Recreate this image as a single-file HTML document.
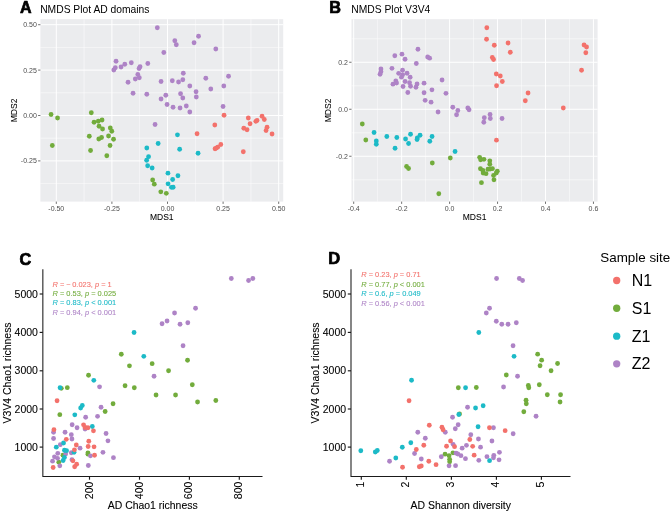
<!DOCTYPE html>
<html><head><meta charset="utf-8"><title>NMDS</title>
<style>
html,body{margin:0;padding:0;background:#fff;}
body{width:672px;height:514px;overflow:hidden;font-family:"Liberation Sans",sans-serif;}
svg{display:block;will-change:transform;transform:translateZ(0);font-family:"Liberation Sans",sans-serif;}
.tk{font-size:7.0px;fill:#4d4d4d;}
.at{font-size:8.5px;fill:#000;stroke:#000;stroke-width:0.06px;}
.ti{font-size:10.3px;fill:#000;}
.lab{font-size:15.6px;font-weight:bold;fill:#000;stroke:#000;stroke-width:0.7px;stroke-linejoin:round;}
.tk2{font-size:10.5px;fill:#000;stroke:#000;stroke-width:0.08px;}
.at2{font-size:10.45px;fill:#000;stroke:#000;stroke-width:0.1px;}
.an{font-size:7.45px;stroke-width:0.08px;}
.lg{font-size:16px;fill:#000;}
.lgt{font-size:13.4px;fill:#000;}
</style></head><body>
<svg width="672" height="514" viewBox="0 0 672 514">
<rect width="672" height="514" fill="#fff"/>

<rect x="40.4" y="19.2" width="242.79999999999998" height="182.4" fill="#EBECEE"/>
<line x1="84.10" x2="84.10" y1="19.2" y2="201.6" stroke="#fff" stroke-width="0.55" opacity="0.9"/><line x1="139.70" x2="139.70" y1="19.2" y2="201.6" stroke="#fff" stroke-width="0.55" opacity="0.9"/><line x1="195.30" x2="195.30" y1="19.2" y2="201.6" stroke="#fff" stroke-width="0.55" opacity="0.9"/><line x1="250.90" x2="250.90" y1="19.2" y2="201.6" stroke="#fff" stroke-width="0.55" opacity="0.9"/><line y1="183.60" y2="183.60" x1="40.4" x2="283.2" stroke="#fff" stroke-width="0.55" opacity="0.9"/><line y1="138.20" y2="138.20" x1="40.4" x2="283.2" stroke="#fff" stroke-width="0.55" opacity="0.9"/><line y1="92.80" y2="92.80" x1="40.4" x2="283.2" stroke="#fff" stroke-width="0.55" opacity="0.9"/><line y1="47.40" y2="47.40" x1="40.4" x2="283.2" stroke="#fff" stroke-width="0.55" opacity="0.9"/><line x1="56.30" x2="56.30" y1="19.2" y2="201.6" stroke="#fff" stroke-width="1.0"/><line x1="56.30" x2="56.30" y1="201.6" y2="203.9" stroke="#333" stroke-width="0.7"/><text class="tk" x="56.30" y="211.2" text-anchor="middle">-0.50</text><line x1="111.90" x2="111.90" y1="19.2" y2="201.6" stroke="#fff" stroke-width="1.0"/><line x1="111.90" x2="111.90" y1="201.6" y2="203.9" stroke="#333" stroke-width="0.7"/><text class="tk" x="111.90" y="211.2" text-anchor="middle">-0.25</text><line x1="167.50" x2="167.50" y1="19.2" y2="201.6" stroke="#fff" stroke-width="1.0"/><line x1="167.50" x2="167.50" y1="201.6" y2="203.9" stroke="#333" stroke-width="0.7"/><text class="tk" x="167.50" y="211.2" text-anchor="middle">0.00</text><line x1="223.10" x2="223.10" y1="19.2" y2="201.6" stroke="#fff" stroke-width="1.0"/><line x1="223.10" x2="223.10" y1="201.6" y2="203.9" stroke="#333" stroke-width="0.7"/><text class="tk" x="223.10" y="211.2" text-anchor="middle">0.25</text><line x1="278.70" x2="278.70" y1="19.2" y2="201.6" stroke="#fff" stroke-width="1.0"/><line x1="278.70" x2="278.70" y1="201.6" y2="203.9" stroke="#333" stroke-width="0.7"/><text class="tk" x="278.70" y="211.2" text-anchor="middle">0.50</text><line y1="160.90" y2="160.90" x1="40.4" x2="283.2" stroke="#fff" stroke-width="1.0"/><line y1="160.90" y2="160.90" x1="38.1" x2="40.4" stroke="#333" stroke-width="0.7"/><text class="tk" x="36.8" y="163.40" text-anchor="end">-0.25</text><line y1="115.50" y2="115.50" x1="40.4" x2="283.2" stroke="#fff" stroke-width="1.0"/><line y1="115.50" y2="115.50" x1="38.1" x2="40.4" stroke="#333" stroke-width="0.7"/><text class="tk" x="36.8" y="118.00" text-anchor="end">0.00</text><line y1="70.10" y2="70.10" x1="40.4" x2="283.2" stroke="#fff" stroke-width="1.0"/><line y1="70.10" y2="70.10" x1="38.1" x2="40.4" stroke="#333" stroke-width="0.7"/><text class="tk" x="36.8" y="72.60" text-anchor="end">0.25</text><line y1="24.70" y2="24.70" x1="40.4" x2="283.2" stroke="#fff" stroke-width="1.0"/><line y1="24.70" y2="24.70" x1="38.1" x2="40.4" stroke="#333" stroke-width="0.7"/><text class="tk" x="36.8" y="27.20" text-anchor="end">0.50</text>
<circle cx="51.05" cy="114.50" r="2.4" fill="#72AC3C"/><circle cx="57.55" cy="118.00" r="2.4" fill="#72AC3C"/><circle cx="52.30" cy="145.50" r="2.4" fill="#72AC3C"/><circle cx="91.30" cy="112.75" r="2.4" fill="#72AC3C"/><circle cx="94.05" cy="122.25" r="2.4" fill="#72AC3C"/><circle cx="98.30" cy="121.25" r="2.4" fill="#72AC3C"/><circle cx="102.05" cy="120.00" r="2.4" fill="#72AC3C"/><circle cx="99.05" cy="126.25" r="2.4" fill="#72AC3C"/><circle cx="102.55" cy="129.00" r="2.4" fill="#72AC3C"/><circle cx="110.30" cy="128.00" r="2.4" fill="#72AC3C"/><circle cx="111.80" cy="131.25" r="2.4" fill="#72AC3C"/><circle cx="89.30" cy="136.25" r="2.4" fill="#72AC3C"/><circle cx="108.55" cy="136.00" r="2.4" fill="#72AC3C"/><circle cx="101.55" cy="137.50" r="2.4" fill="#72AC3C"/><circle cx="98.80" cy="139.00" r="2.4" fill="#72AC3C"/><circle cx="113.55" cy="139.25" r="2.4" fill="#72AC3C"/><circle cx="110.05" cy="145.50" r="2.4" fill="#72AC3C"/><circle cx="90.55" cy="150.50" r="2.4" fill="#72AC3C"/><circle cx="106.80" cy="155.75" r="2.4" fill="#72AC3C"/><circle cx="152.65" cy="180.00" r="2.4" fill="#72AC3C"/><circle cx="154.30" cy="184.15" r="2.4" fill="#72AC3C"/><circle cx="160.80" cy="191.85" r="2.4" fill="#72AC3C"/><circle cx="166.30" cy="193.35" r="2.4" fill="#72AC3C"/><circle cx="157.30" cy="27.75" r="2.4" fill="#AE83C6"/><circle cx="163.80" cy="52.50" r="2.4" fill="#AE83C6"/><circle cx="116.05" cy="61.25" r="2.4" fill="#AE83C6"/><circle cx="115.30" cy="67.75" r="2.4" fill="#AE83C6"/><circle cx="113.80" cy="70.00" r="2.4" fill="#AE83C6"/><circle cx="121.05" cy="67.00" r="2.4" fill="#AE83C6"/><circle cx="124.80" cy="64.25" r="2.4" fill="#AE83C6"/><circle cx="131.30" cy="62.75" r="2.4" fill="#AE83C6"/><circle cx="140.05" cy="66.75" r="2.4" fill="#AE83C6"/><circle cx="139.05" cy="68.50" r="2.4" fill="#AE83C6"/><circle cx="147.80" cy="63.50" r="2.4" fill="#AE83C6"/><circle cx="137.80" cy="74.50" r="2.4" fill="#AE83C6"/><circle cx="139.30" cy="77.75" r="2.4" fill="#AE83C6"/><circle cx="135.30" cy="79.00" r="2.4" fill="#AE83C6"/><circle cx="128.05" cy="82.25" r="2.4" fill="#AE83C6"/><circle cx="161.05" cy="81.50" r="2.4" fill="#AE83C6"/><circle cx="133.05" cy="93.25" r="2.4" fill="#AE83C6"/><circle cx="146.80" cy="94.25" r="2.4" fill="#AE83C6"/><circle cx="165.80" cy="95.25" r="2.4" fill="#AE83C6"/><circle cx="161.05" cy="99.00" r="2.4" fill="#AE83C6"/><circle cx="167.05" cy="104.50" r="2.4" fill="#AE83C6"/><circle cx="155.05" cy="124.50" r="2.4" fill="#AE83C6"/><circle cx="174.80" cy="40.75" r="2.4" fill="#AE83C6"/><circle cx="176.30" cy="44.75" r="2.4" fill="#AE83C6"/><circle cx="194.05" cy="42.75" r="2.4" fill="#AE83C6"/><circle cx="198.55" cy="36.25" r="2.4" fill="#AE83C6"/><circle cx="215.80" cy="49.00" r="2.4" fill="#AE83C6"/><circle cx="183.30" cy="73.25" r="2.4" fill="#AE83C6"/><circle cx="172.30" cy="80.75" r="2.4" fill="#AE83C6"/><circle cx="178.55" cy="82.00" r="2.4" fill="#AE83C6"/><circle cx="182.80" cy="79.75" r="2.4" fill="#AE83C6"/><circle cx="189.80" cy="86.00" r="2.4" fill="#AE83C6"/><circle cx="205.80" cy="78.25" r="2.4" fill="#AE83C6"/><circle cx="228.55" cy="76.25" r="2.4" fill="#AE83C6"/><circle cx="223.80" cy="86.00" r="2.4" fill="#AE83C6"/><circle cx="210.80" cy="89.00" r="2.4" fill="#AE83C6"/><circle cx="196.05" cy="91.75" r="2.4" fill="#AE83C6"/><circle cx="180.55" cy="93.75" r="2.4" fill="#AE83C6"/><circle cx="182.80" cy="98.00" r="2.4" fill="#AE83C6"/><circle cx="196.30" cy="97.00" r="2.4" fill="#AE83C6"/><circle cx="173.05" cy="107.25" r="2.4" fill="#AE83C6"/><circle cx="180.05" cy="108.00" r="2.4" fill="#AE83C6"/><circle cx="186.30" cy="106.00" r="2.4" fill="#AE83C6"/><circle cx="189.80" cy="112.00" r="2.4" fill="#AE83C6"/><circle cx="223.05" cy="106.50" r="2.4" fill="#AE83C6"/><circle cx="177.45" cy="134.85" r="2.4" fill="#1CBAC7"/><circle cx="158.15" cy="143.50" r="2.4" fill="#1CBAC7"/><circle cx="146.80" cy="148.00" r="2.4" fill="#1CBAC7"/><circle cx="179.65" cy="149.25" r="2.4" fill="#1CBAC7"/><circle cx="198.05" cy="153.25" r="2.4" fill="#1CBAC7"/><circle cx="148.55" cy="156.65" r="2.4" fill="#1CBAC7"/><circle cx="146.65" cy="160.25" r="2.4" fill="#1CBAC7"/><circle cx="147.65" cy="165.75" r="2.4" fill="#1CBAC7"/><circle cx="152.15" cy="168.00" r="2.4" fill="#1CBAC7"/><circle cx="167.95" cy="173.15" r="2.4" fill="#1CBAC7"/><circle cx="177.95" cy="175.75" r="2.4" fill="#1CBAC7"/><circle cx="172.65" cy="179.50" r="2.4" fill="#1CBAC7"/><circle cx="168.05" cy="183.85" r="2.4" fill="#1CBAC7"/><circle cx="171.45" cy="187.35" r="2.4" fill="#1CBAC7"/><circle cx="173.15" cy="187.25" r="2.4" fill="#1CBAC7"/><circle cx="224.05" cy="115.25" r="2.4" fill="#F3716B"/><circle cx="214.80" cy="125.00" r="2.4" fill="#F3716B"/><circle cx="197.05" cy="133.75" r="2.4" fill="#F3716B"/><circle cx="248.30" cy="118.00" r="2.4" fill="#F3716B"/><circle cx="250.05" cy="123.75" r="2.4" fill="#F3716B"/><circle cx="255.85" cy="121.35" r="2.4" fill="#F3716B"/><circle cx="257.05" cy="120.45" r="2.4" fill="#F3716B"/><circle cx="262.05" cy="116.25" r="2.4" fill="#F3716B"/><circle cx="264.30" cy="119.50" r="2.4" fill="#F3716B"/><circle cx="243.80" cy="128.25" r="2.4" fill="#F3716B"/><circle cx="247.05" cy="129.75" r="2.4" fill="#F3716B"/><circle cx="267.05" cy="127.25" r="2.4" fill="#F3716B"/><circle cx="266.05" cy="130.50" r="2.4" fill="#F3716B"/><circle cx="272.05" cy="134.00" r="2.4" fill="#F3716B"/><circle cx="220.80" cy="144.50" r="2.4" fill="#F3716B"/><circle cx="217.65" cy="147.15" r="2.4" fill="#F3716B"/><circle cx="216.35" cy="148.05" r="2.4" fill="#F3716B"/><circle cx="215.05" cy="148.75" r="2.4" fill="#F3716B"/><circle cx="243.30" cy="151.75" r="2.4" fill="#F3716B"/>
<text class="lab" transform="translate(19.9,12.5) scale(1.03,1)">A</text>
<text class="ti" x="40.2" y="12.9">NMDS Plot AD domains</text>
<text class="at" x="161.8" y="220.3" text-anchor="middle">MDS1</text>
<text class="at" transform="translate(17.3,110.4) rotate(-90)" text-anchor="middle">MDS2</text>
<rect x="351.5" y="19.2" width="246.10000000000002" height="182.4" fill="#EBECEE"/>
<line x1="377.68" x2="377.68" y1="19.2" y2="201.6" stroke="#fff" stroke-width="0.55" opacity="0.9"/><line x1="425.62" x2="425.62" y1="19.2" y2="201.6" stroke="#fff" stroke-width="0.55" opacity="0.9"/><line x1="473.58" x2="473.58" y1="19.2" y2="201.6" stroke="#fff" stroke-width="0.55" opacity="0.9"/><line x1="521.53" x2="521.53" y1="19.2" y2="201.6" stroke="#fff" stroke-width="0.55" opacity="0.9"/><line x1="569.48" x2="569.48" y1="19.2" y2="201.6" stroke="#fff" stroke-width="0.55" opacity="0.9"/><line y1="179.75" y2="179.75" x1="351.5" x2="597.6" stroke="#fff" stroke-width="0.55" opacity="0.9"/><line y1="132.75" y2="132.75" x1="351.5" x2="597.6" stroke="#fff" stroke-width="0.55" opacity="0.9"/><line y1="85.75" y2="85.75" x1="351.5" x2="597.6" stroke="#fff" stroke-width="0.55" opacity="0.9"/><line y1="38.75" y2="38.75" x1="351.5" x2="597.6" stroke="#fff" stroke-width="0.55" opacity="0.9"/><line x1="353.70" x2="353.70" y1="19.2" y2="201.6" stroke="#fff" stroke-width="1.0"/><line x1="353.70" x2="353.70" y1="201.6" y2="203.9" stroke="#333" stroke-width="0.7"/><text class="tk" x="353.70" y="211.2" text-anchor="middle">-0.4</text><line x1="401.65" x2="401.65" y1="19.2" y2="201.6" stroke="#fff" stroke-width="1.0"/><line x1="401.65" x2="401.65" y1="201.6" y2="203.9" stroke="#333" stroke-width="0.7"/><text class="tk" x="401.65" y="211.2" text-anchor="middle">-0.2</text><line x1="449.60" x2="449.60" y1="19.2" y2="201.6" stroke="#fff" stroke-width="1.0"/><line x1="449.60" x2="449.60" y1="201.6" y2="203.9" stroke="#333" stroke-width="0.7"/><text class="tk" x="449.60" y="211.2" text-anchor="middle">0.0</text><line x1="497.55" x2="497.55" y1="19.2" y2="201.6" stroke="#fff" stroke-width="1.0"/><line x1="497.55" x2="497.55" y1="201.6" y2="203.9" stroke="#333" stroke-width="0.7"/><text class="tk" x="497.55" y="211.2" text-anchor="middle">0.2</text><line x1="545.50" x2="545.50" y1="19.2" y2="201.6" stroke="#fff" stroke-width="1.0"/><line x1="545.50" x2="545.50" y1="201.6" y2="203.9" stroke="#333" stroke-width="0.7"/><text class="tk" x="545.50" y="211.2" text-anchor="middle">0.4</text><line x1="593.45" x2="593.45" y1="19.2" y2="201.6" stroke="#fff" stroke-width="1.0"/><line x1="593.45" x2="593.45" y1="201.6" y2="203.9" stroke="#333" stroke-width="0.7"/><text class="tk" x="593.45" y="211.2" text-anchor="middle">0.6</text><line y1="156.25" y2="156.25" x1="351.5" x2="597.6" stroke="#fff" stroke-width="1.0"/><line y1="156.25" y2="156.25" x1="349.2" x2="351.5" stroke="#333" stroke-width="0.7"/><text class="tk" x="347.9" y="158.75" text-anchor="end">-0.2</text><line y1="109.25" y2="109.25" x1="351.5" x2="597.6" stroke="#fff" stroke-width="1.0"/><line y1="109.25" y2="109.25" x1="349.2" x2="351.5" stroke="#333" stroke-width="0.7"/><text class="tk" x="347.9" y="111.75" text-anchor="end">0.0</text><line y1="62.25" y2="62.25" x1="351.5" x2="597.6" stroke="#fff" stroke-width="1.0"/><line y1="62.25" y2="62.25" x1="349.2" x2="351.5" stroke="#333" stroke-width="0.7"/><text class="tk" x="347.9" y="64.75" text-anchor="end">0.2</text>
<circle cx="362.30" cy="124.00" r="2.4" fill="#72AC3C"/><circle cx="365.80" cy="140.00" r="2.4" fill="#72AC3C"/><circle cx="406.55" cy="166.50" r="2.4" fill="#72AC3C"/><circle cx="408.55" cy="168.50" r="2.4" fill="#72AC3C"/><circle cx="432.30" cy="163.00" r="2.4" fill="#72AC3C"/><circle cx="450.30" cy="158.00" r="2.4" fill="#72AC3C"/><circle cx="438.80" cy="193.75" r="2.4" fill="#72AC3C"/><circle cx="479.65" cy="157.35" r="2.4" fill="#72AC3C"/><circle cx="480.65" cy="159.75" r="2.4" fill="#72AC3C"/><circle cx="483.95" cy="159.35" r="2.4" fill="#72AC3C"/><circle cx="489.80" cy="160.85" r="2.4" fill="#72AC3C"/><circle cx="489.80" cy="164.25" r="2.4" fill="#72AC3C"/><circle cx="480.45" cy="168.75" r="2.4" fill="#72AC3C"/><circle cx="482.95" cy="170.50" r="2.4" fill="#72AC3C"/><circle cx="483.15" cy="173.00" r="2.4" fill="#72AC3C"/><circle cx="486.05" cy="173.65" r="2.4" fill="#72AC3C"/><circle cx="487.95" cy="169.25" r="2.4" fill="#72AC3C"/><circle cx="490.05" cy="169.00" r="2.4" fill="#72AC3C"/><circle cx="492.45" cy="168.65" r="2.4" fill="#72AC3C"/><circle cx="497.30" cy="171.25" r="2.4" fill="#72AC3C"/><circle cx="496.30" cy="173.00" r="2.4" fill="#72AC3C"/><circle cx="493.55" cy="175.50" r="2.4" fill="#72AC3C"/><circle cx="493.95" cy="179.85" r="2.4" fill="#72AC3C"/><circle cx="481.45" cy="182.65" r="2.4" fill="#72AC3C"/><circle cx="417.95" cy="49.25" r="2.4" fill="#AE83C6"/><circle cx="401.95" cy="54.15" r="2.4" fill="#AE83C6"/><circle cx="394.80" cy="55.75" r="2.4" fill="#AE83C6"/><circle cx="405.05" cy="59.25" r="2.4" fill="#AE83C6"/><circle cx="427.65" cy="57.00" r="2.4" fill="#AE83C6"/><circle cx="429.65" cy="58.15" r="2.4" fill="#AE83C6"/><circle cx="416.30" cy="63.50" r="2.4" fill="#AE83C6"/><circle cx="380.95" cy="69.00" r="2.4" fill="#AE83C6"/><circle cx="380.95" cy="71.75" r="2.4" fill="#AE83C6"/><circle cx="380.05" cy="74.25" r="2.4" fill="#AE83C6"/><circle cx="391.95" cy="68.35" r="2.4" fill="#AE83C6"/><circle cx="402.55" cy="70.25" r="2.4" fill="#AE83C6"/><circle cx="398.65" cy="73.35" r="2.4" fill="#AE83C6"/><circle cx="407.05" cy="73.25" r="2.4" fill="#AE83C6"/><circle cx="402.65" cy="74.85" r="2.4" fill="#AE83C6"/><circle cx="401.45" cy="77.15" r="2.4" fill="#AE83C6"/><circle cx="410.15" cy="77.25" r="2.4" fill="#AE83C6"/><circle cx="395.80" cy="81.00" r="2.4" fill="#AE83C6"/><circle cx="396.55" cy="83.00" r="2.4" fill="#AE83C6"/><circle cx="392.95" cy="84.15" r="2.4" fill="#AE83C6"/><circle cx="405.05" cy="81.50" r="2.4" fill="#AE83C6"/><circle cx="409.55" cy="82.75" r="2.4" fill="#AE83C6"/><circle cx="403.05" cy="86.50" r="2.4" fill="#AE83C6"/><circle cx="410.55" cy="86.25" r="2.4" fill="#AE83C6"/><circle cx="417.05" cy="84.00" r="2.4" fill="#AE83C6"/><circle cx="415.95" cy="87.25" r="2.4" fill="#AE83C6"/><circle cx="424.05" cy="83.15" r="2.4" fill="#AE83C6"/><circle cx="442.05" cy="80.00" r="2.4" fill="#AE83C6"/><circle cx="407.80" cy="92.50" r="2.4" fill="#AE83C6"/><circle cx="424.05" cy="92.75" r="2.4" fill="#AE83C6"/><circle cx="431.95" cy="89.85" r="2.4" fill="#AE83C6"/><circle cx="445.95" cy="93.35" r="2.4" fill="#AE83C6"/><circle cx="425.15" cy="100.35" r="2.4" fill="#AE83C6"/><circle cx="431.05" cy="102.15" r="2.4" fill="#AE83C6"/><circle cx="438.05" cy="112.00" r="2.4" fill="#AE83C6"/><circle cx="452.80" cy="107.25" r="2.4" fill="#AE83C6"/><circle cx="457.80" cy="110.50" r="2.4" fill="#AE83C6"/><circle cx="456.55" cy="114.75" r="2.4" fill="#AE83C6"/><circle cx="467.80" cy="108.00" r="2.4" fill="#AE83C6"/><circle cx="469.05" cy="109.75" r="2.4" fill="#AE83C6"/><circle cx="484.30" cy="117.75" r="2.4" fill="#AE83C6"/><circle cx="483.80" cy="122.25" r="2.4" fill="#AE83C6"/><circle cx="490.05" cy="114.50" r="2.4" fill="#AE83C6"/><circle cx="490.30" cy="118.50" r="2.4" fill="#AE83C6"/><circle cx="502.05" cy="118.50" r="2.4" fill="#AE83C6"/><circle cx="374.05" cy="132.50" r="2.4" fill="#1CBAC7"/><circle cx="376.30" cy="141.00" r="2.4" fill="#1CBAC7"/><circle cx="376.30" cy="144.25" r="2.4" fill="#1CBAC7"/><circle cx="386.80" cy="136.50" r="2.4" fill="#1CBAC7"/><circle cx="396.80" cy="137.50" r="2.4" fill="#1CBAC7"/><circle cx="395.05" cy="148.25" r="2.4" fill="#1CBAC7"/><circle cx="405.55" cy="139.00" r="2.4" fill="#1CBAC7"/><circle cx="408.55" cy="143.50" r="2.4" fill="#1CBAC7"/><circle cx="410.55" cy="134.25" r="2.4" fill="#1CBAC7"/><circle cx="417.30" cy="138.00" r="2.4" fill="#1CBAC7"/><circle cx="417.05" cy="139.50" r="2.4" fill="#1CBAC7"/><circle cx="420.05" cy="135.25" r="2.4" fill="#1CBAC7"/><circle cx="432.05" cy="136.50" r="2.4" fill="#1CBAC7"/><circle cx="429.80" cy="141.25" r="2.4" fill="#1CBAC7"/><circle cx="455.05" cy="151.50" r="2.4" fill="#1CBAC7"/><circle cx="486.80" cy="27.75" r="2.4" fill="#F3716B"/><circle cx="486.55" cy="39.25" r="2.4" fill="#F3716B"/><circle cx="494.30" cy="45.25" r="2.4" fill="#F3716B"/><circle cx="508.05" cy="43.00" r="2.4" fill="#F3716B"/><circle cx="510.30" cy="52.25" r="2.4" fill="#F3716B"/><circle cx="492.30" cy="57.50" r="2.4" fill="#F3716B"/><circle cx="493.55" cy="59.50" r="2.4" fill="#F3716B"/><circle cx="496.30" cy="74.00" r="2.4" fill="#F3716B"/><circle cx="500.30" cy="76.00" r="2.4" fill="#F3716B"/><circle cx="502.30" cy="81.50" r="2.4" fill="#F3716B"/><circle cx="496.55" cy="85.75" r="2.4" fill="#F3716B"/><circle cx="528.05" cy="93.00" r="2.4" fill="#F3716B"/><circle cx="525.30" cy="100.75" r="2.4" fill="#F3716B"/><circle cx="563.30" cy="108.00" r="2.4" fill="#F3716B"/><circle cx="581.55" cy="70.25" r="2.4" fill="#F3716B"/><circle cx="584.05" cy="45.00" r="2.4" fill="#F3716B"/><circle cx="586.55" cy="47.00" r="2.4" fill="#F3716B"/><circle cx="585.80" cy="52.75" r="2.4" fill="#F3716B"/><circle cx="496.45" cy="140.15" r="2.4" fill="#F3716B"/>
<text class="lab" transform="translate(329.3,12.6) scale(1.04,1)">B</text>
<text class="ti" x="351.3" y="12.9">NMDS Plot V3V4</text>
<text class="at" x="474.6" y="220.3" text-anchor="middle">MDS1</text>
<text class="at" transform="translate(331.1,110.4) rotate(-90)" text-anchor="middle">MDS2</text>
<path d="M42.85 269.2 V476.5 H262.5" fill="none" stroke="#1a1a1a" stroke-width="1.05"/><line x1="39.65" x2="42.85" y1="294" y2="294" stroke="#1a1a1a" stroke-width="1.15"/><text class="tk2" x="37.95" y="297.6" text-anchor="end">5000</text><line x1="39.65" x2="42.85" y1="332.4" y2="332.4" stroke="#1a1a1a" stroke-width="1.15"/><text class="tk2" x="37.95" y="336.0" text-anchor="end">4000</text><line x1="39.65" x2="42.85" y1="370.8" y2="370.8" stroke="#1a1a1a" stroke-width="1.15"/><text class="tk2" x="37.95" y="374.40000000000003" text-anchor="end">3000</text><line x1="39.65" x2="42.85" y1="409.0" y2="409.0" stroke="#1a1a1a" stroke-width="1.15"/><text class="tk2" x="37.95" y="412.6" text-anchor="end">2000</text><line x1="39.65" x2="42.85" y1="447.1" y2="447.1" stroke="#1a1a1a" stroke-width="1.15"/><text class="tk2" x="37.95" y="450.70000000000005" text-anchor="end">1000</text><line x1="89.5" x2="89.5" y1="476.5" y2="479.7" stroke="#1a1a1a" stroke-width="1.15"/><text class="tk2" transform="translate(92.5,481.6) rotate(-90)" text-anchor="end">200</text><line x1="139.5" x2="139.5" y1="476.5" y2="479.7" stroke="#1a1a1a" stroke-width="1.15"/><text class="tk2" transform="translate(142.5,481.6) rotate(-90)" text-anchor="end">400</text><line x1="189.4" x2="189.4" y1="476.5" y2="479.7" stroke="#1a1a1a" stroke-width="1.15"/><text class="tk2" transform="translate(192.4,481.6) rotate(-90)" text-anchor="end">600</text><line x1="239.3" x2="239.3" y1="476.5" y2="479.7" stroke="#1a1a1a" stroke-width="1.15"/><text class="tk2" transform="translate(242.3,481.6) rotate(-90)" text-anchor="end">800</text>
<circle cx="121.30" cy="354.25" r="2.4" fill="#72AC3C"/><circle cx="129.45" cy="365.85" r="2.4" fill="#72AC3C"/><circle cx="152.15" cy="363.65" r="2.4" fill="#72AC3C"/><circle cx="187.55" cy="360.25" r="2.4" fill="#72AC3C"/><circle cx="168.55" cy="370.75" r="2.4" fill="#72AC3C"/><circle cx="125.05" cy="385.75" r="2.4" fill="#72AC3C"/><circle cx="134.30" cy="387.75" r="2.4" fill="#72AC3C"/><circle cx="192.30" cy="384.75" r="2.4" fill="#72AC3C"/><circle cx="156.05" cy="395.00" r="2.4" fill="#72AC3C"/><circle cx="175.55" cy="395.00" r="2.4" fill="#72AC3C"/><circle cx="197.55" cy="402.00" r="2.4" fill="#72AC3C"/><circle cx="215.80" cy="400.50" r="2.4" fill="#72AC3C"/><circle cx="113.05" cy="403.75" r="2.4" fill="#72AC3C"/><circle cx="88.55" cy="375.25" r="2.4" fill="#72AC3C"/><circle cx="61.30" cy="388.35" r="2.4" fill="#72AC3C"/><circle cx="67.30" cy="387.65" r="2.4" fill="#72AC3C"/><circle cx="105.15" cy="411.50" r="2.4" fill="#72AC3C"/><circle cx="59.80" cy="414.65" r="2.4" fill="#72AC3C"/><circle cx="87.95" cy="452.85" r="2.4" fill="#72AC3C"/><circle cx="87.95" cy="454.15" r="2.4" fill="#72AC3C"/><circle cx="58.80" cy="462.15" r="2.4" fill="#72AC3C"/><circle cx="62.95" cy="455.25" r="2.4" fill="#72AC3C"/><circle cx="162.05" cy="323.75" r="2.4" fill="#AE83C6"/><circle cx="167.05" cy="321.00" r="2.4" fill="#AE83C6"/><circle cx="231.30" cy="278.50" r="2.4" fill="#AE83C6"/><circle cx="248.55" cy="280.50" r="2.4" fill="#AE83C6"/><circle cx="252.80" cy="278.50" r="2.4" fill="#AE83C6"/><circle cx="195.55" cy="308.25" r="2.4" fill="#AE83C6"/><circle cx="174.55" cy="313.00" r="2.4" fill="#AE83C6"/><circle cx="180.05" cy="324.25" r="2.4" fill="#AE83C6"/><circle cx="187.80" cy="322.75" r="2.4" fill="#AE83C6"/><circle cx="183.05" cy="345.75" r="2.4" fill="#AE83C6"/><circle cx="154.05" cy="376.25" r="2.4" fill="#AE83C6"/><circle cx="113.45" cy="457.65" r="2.4" fill="#AE83C6"/><circle cx="99.55" cy="386.85" r="2.4" fill="#AE83C6"/><circle cx="101.05" cy="407.25" r="2.4" fill="#AE83C6"/><circle cx="85.65" cy="417.25" r="2.4" fill="#AE83C6"/><circle cx="97.55" cy="416.35" r="2.4" fill="#AE83C6"/><circle cx="72.15" cy="424.75" r="2.4" fill="#AE83C6"/><circle cx="77.05" cy="427.75" r="2.4" fill="#AE83C6"/><circle cx="85.05" cy="429.00" r="2.4" fill="#AE83C6"/><circle cx="53.55" cy="432.25" r="2.4" fill="#AE83C6"/><circle cx="65.05" cy="432.25" r="2.4" fill="#AE83C6"/><circle cx="71.30" cy="434.65" r="2.4" fill="#AE83C6"/><circle cx="106.05" cy="433.50" r="2.4" fill="#AE83C6"/><circle cx="53.55" cy="438.50" r="2.4" fill="#AE83C6"/><circle cx="71.95" cy="439.00" r="2.4" fill="#AE83C6"/><circle cx="107.95" cy="440.85" r="2.4" fill="#AE83C6"/><circle cx="60.30" cy="444.65" r="2.4" fill="#AE83C6"/><circle cx="80.05" cy="448.15" r="2.4" fill="#AE83C6"/><circle cx="102.95" cy="452.35" r="2.4" fill="#AE83C6"/><circle cx="57.80" cy="453.35" r="2.4" fill="#AE83C6"/><circle cx="71.30" cy="452.75" r="2.4" fill="#AE83C6"/><circle cx="65.65" cy="454.00" r="2.4" fill="#AE83C6"/><circle cx="90.45" cy="455.85" r="2.4" fill="#AE83C6"/><circle cx="54.45" cy="456.85" r="2.4" fill="#AE83C6"/><circle cx="57.55" cy="458.35" r="2.4" fill="#AE83C6"/><circle cx="52.55" cy="461.15" r="2.4" fill="#AE83C6"/><circle cx="71.95" cy="459.65" r="2.4" fill="#AE83C6"/><circle cx="59.80" cy="465.85" r="2.4" fill="#AE83C6"/><circle cx="88.30" cy="465.50" r="2.4" fill="#AE83C6"/><circle cx="134.05" cy="332.50" r="2.4" fill="#1CBAC7"/><circle cx="143.80" cy="356.35" r="2.4" fill="#1CBAC7"/><circle cx="93.80" cy="380.35" r="2.4" fill="#1CBAC7"/><circle cx="60.05" cy="387.75" r="2.4" fill="#1CBAC7"/><circle cx="82.30" cy="405.50" r="2.4" fill="#1CBAC7"/><circle cx="80.65" cy="408.00" r="2.4" fill="#1CBAC7"/><circle cx="74.80" cy="414.85" r="2.4" fill="#1CBAC7"/><circle cx="92.30" cy="426.50" r="2.4" fill="#1CBAC7"/><circle cx="63.55" cy="443.00" r="2.4" fill="#1CBAC7"/><circle cx="56.30" cy="447.15" r="2.4" fill="#1CBAC7"/><circle cx="64.45" cy="450.25" r="2.4" fill="#1CBAC7"/><circle cx="66.55" cy="450.65" r="2.4" fill="#1CBAC7"/><circle cx="74.05" cy="452.35" r="2.4" fill="#1CBAC7"/><circle cx="64.45" cy="457.50" r="2.4" fill="#1CBAC7"/><circle cx="63.15" cy="460.50" r="2.4" fill="#1CBAC7"/><circle cx="57.05" cy="400.75" r="2.4" fill="#F3716B"/><circle cx="83.55" cy="424.85" r="2.4" fill="#F3716B"/><circle cx="85.05" cy="427.50" r="2.4" fill="#F3716B"/><circle cx="87.95" cy="427.75" r="2.4" fill="#F3716B"/><circle cx="93.45" cy="430.85" r="2.4" fill="#F3716B"/><circle cx="53.95" cy="429.65" r="2.4" fill="#F3716B"/><circle cx="66.30" cy="439.35" r="2.4" fill="#F3716B"/><circle cx="88.80" cy="441.25" r="2.4" fill="#F3716B"/><circle cx="76.30" cy="445.00" r="2.4" fill="#F3716B"/><circle cx="88.15" cy="446.50" r="2.4" fill="#F3716B"/><circle cx="94.05" cy="446.85" r="2.4" fill="#F3716B"/><circle cx="74.45" cy="449.85" r="2.4" fill="#F3716B"/><circle cx="94.55" cy="455.25" r="2.4" fill="#F3716B"/><circle cx="72.95" cy="460.85" r="2.4" fill="#F3716B"/><circle cx="76.65" cy="464.25" r="2.4" fill="#F3716B"/><circle cx="74.65" cy="466.75" r="2.4" fill="#F3716B"/><circle cx="53.15" cy="467.50" r="2.4" fill="#F3716B"/>
<text class="lab" transform="translate(19.5,264.6) scale(1.04,1)">C</text>
<text class="at2" x="152.7" y="508.6" text-anchor="middle">AD Chao1 richness</text>
<text class="at2" transform="translate(10.6,372.9) rotate(-90)" text-anchor="middle">V3V4 Chao1 richness</text>
<text class="an" x="52.5" y="287" fill="#F3716B" stroke="#F3716B"><tspan font-style="italic">R</tspan> = &#8722;&#8201;0.023, <tspan font-style="italic">p</tspan> = 1</text>
<text class="an" x="52.5" y="296" fill="#72AC3C" stroke="#72AC3C"><tspan font-style="italic">R</tspan> = 0.53, <tspan font-style="italic">p</tspan> = 0.025</text>
<text class="an" x="52.5" y="305" fill="#1CBAC7" stroke="#1CBAC7"><tspan font-style="italic">R</tspan> = 0.83, <tspan font-style="italic">p</tspan> &lt; 0.001</text>
<text class="an" x="52.5" y="315" fill="#AE83C6" stroke="#AE83C6"><tspan font-style="italic">R</tspan> = 0.94, <tspan font-style="italic">p</tspan> &lt; 0.001</text>
<path d="M351.0 269.2 V476.5 H570.5" fill="none" stroke="#1a1a1a" stroke-width="1.05"/><line x1="347.8" x2="351.0" y1="294" y2="294" stroke="#1a1a1a" stroke-width="1.15"/><text class="tk2" x="346.10" y="297.6" text-anchor="end">5000</text><line x1="347.8" x2="351.0" y1="332.4" y2="332.4" stroke="#1a1a1a" stroke-width="1.15"/><text class="tk2" x="346.10" y="336.0" text-anchor="end">4000</text><line x1="347.8" x2="351.0" y1="370.8" y2="370.8" stroke="#1a1a1a" stroke-width="1.15"/><text class="tk2" x="346.10" y="374.40000000000003" text-anchor="end">3000</text><line x1="347.8" x2="351.0" y1="409.0" y2="409.0" stroke="#1a1a1a" stroke-width="1.15"/><text class="tk2" x="346.10" y="412.6" text-anchor="end">2000</text><line x1="347.8" x2="351.0" y1="447.1" y2="447.1" stroke="#1a1a1a" stroke-width="1.15"/><text class="tk2" x="346.10" y="450.70000000000005" text-anchor="end">1000</text><line x1="361.3" x2="361.3" y1="476.5" y2="479.7" stroke="#1a1a1a" stroke-width="1.15"/><text class="tk2" transform="translate(364.3,481.6) rotate(-90)" text-anchor="end">1</text><line x1="406.3" x2="406.3" y1="476.5" y2="479.7" stroke="#1a1a1a" stroke-width="1.15"/><text class="tk2" transform="translate(409.3,481.6) rotate(-90)" text-anchor="end">2</text><line x1="451.4" x2="451.4" y1="476.5" y2="479.7" stroke="#1a1a1a" stroke-width="1.15"/><text class="tk2" transform="translate(454.4,481.6) rotate(-90)" text-anchor="end">3</text><line x1="496.4" x2="496.4" y1="476.5" y2="479.7" stroke="#1a1a1a" stroke-width="1.15"/><text class="tk2" transform="translate(499.4,481.6) rotate(-90)" text-anchor="end">4</text><line x1="541.4" x2="541.4" y1="476.5" y2="479.7" stroke="#1a1a1a" stroke-width="1.15"/><text class="tk2" transform="translate(544.4,481.6) rotate(-90)" text-anchor="end">5</text>
<circle cx="537.65" cy="354.15" r="2.4" fill="#72AC3C"/><circle cx="541.65" cy="360.15" r="2.4" fill="#72AC3C"/><circle cx="540.05" cy="365.75" r="2.4" fill="#72AC3C"/><circle cx="557.55" cy="363.50" r="2.4" fill="#72AC3C"/><circle cx="551.05" cy="370.75" r="2.4" fill="#72AC3C"/><circle cx="506.30" cy="375.00" r="2.4" fill="#72AC3C"/><circle cx="476.30" cy="387.50" r="2.4" fill="#72AC3C"/><circle cx="458.30" cy="387.75" r="2.4" fill="#72AC3C"/><circle cx="528.30" cy="385.50" r="2.4" fill="#72AC3C"/><circle cx="528.80" cy="387.75" r="2.4" fill="#72AC3C"/><circle cx="539.30" cy="384.75" r="2.4" fill="#72AC3C"/><circle cx="547.30" cy="394.75" r="2.4" fill="#72AC3C"/><circle cx="560.55" cy="394.75" r="2.4" fill="#72AC3C"/><circle cx="560.05" cy="402.00" r="2.4" fill="#72AC3C"/><circle cx="526.05" cy="400.25" r="2.4" fill="#72AC3C"/><circle cx="526.30" cy="403.75" r="2.4" fill="#72AC3C"/><circle cx="523.80" cy="411.75" r="2.4" fill="#72AC3C"/><circle cx="459.55" cy="414.00" r="2.4" fill="#72AC3C"/><circle cx="445.05" cy="454.15" r="2.4" fill="#72AC3C"/><circle cx="449.05" cy="455.65" r="2.4" fill="#72AC3C"/><circle cx="452.95" cy="452.85" r="2.4" fill="#72AC3C"/><circle cx="449.65" cy="459.35" r="2.4" fill="#72AC3C"/><circle cx="449.65" cy="461.85" r="2.4" fill="#72AC3C"/><circle cx="496.55" cy="278.50" r="2.4" fill="#AE83C6"/><circle cx="519.30" cy="278.50" r="2.4" fill="#AE83C6"/><circle cx="522.55" cy="280.50" r="2.4" fill="#AE83C6"/><circle cx="489.55" cy="308.25" r="2.4" fill="#AE83C6"/><circle cx="486.30" cy="313.00" r="2.4" fill="#AE83C6"/><circle cx="496.30" cy="321.25" r="2.4" fill="#AE83C6"/><circle cx="501.80" cy="324.25" r="2.4" fill="#AE83C6"/><circle cx="508.05" cy="324.25" r="2.4" fill="#AE83C6"/><circle cx="516.30" cy="322.75" r="2.4" fill="#AE83C6"/><circle cx="513.05" cy="345.75" r="2.4" fill="#AE83C6"/><circle cx="517.55" cy="376.25" r="2.4" fill="#AE83C6"/><circle cx="503.55" cy="387.00" r="2.4" fill="#AE83C6"/><circle cx="536.05" cy="416.25" r="2.4" fill="#AE83C6"/><circle cx="467.55" cy="407.25" r="2.4" fill="#AE83C6"/><circle cx="452.55" cy="417.25" r="2.4" fill="#AE83C6"/><circle cx="458.15" cy="424.75" r="2.4" fill="#AE83C6"/><circle cx="455.30" cy="428.75" r="2.4" fill="#AE83C6"/><circle cx="445.30" cy="432.25" r="2.4" fill="#AE83C6"/><circle cx="417.80" cy="432.25" r="2.4" fill="#AE83C6"/><circle cx="425.30" cy="438.25" r="2.4" fill="#AE83C6"/><circle cx="493.45" cy="427.75" r="2.4" fill="#AE83C6"/><circle cx="513.15" cy="433.75" r="2.4" fill="#AE83C6"/><circle cx="470.80" cy="434.75" r="2.4" fill="#AE83C6"/><circle cx="478.45" cy="439.00" r="2.4" fill="#AE83C6"/><circle cx="491.95" cy="441.00" r="2.4" fill="#AE83C6"/><circle cx="453.15" cy="444.35" r="2.4" fill="#AE83C6"/><circle cx="466.45" cy="445.35" r="2.4" fill="#AE83C6"/><circle cx="462.15" cy="448.15" r="2.4" fill="#AE83C6"/><circle cx="480.55" cy="447.15" r="2.4" fill="#AE83C6"/><circle cx="456.05" cy="453.15" r="2.4" fill="#AE83C6"/><circle cx="457.80" cy="454.00" r="2.4" fill="#AE83C6"/><circle cx="460.95" cy="455.65" r="2.4" fill="#AE83C6"/><circle cx="465.45" cy="458.65" r="2.4" fill="#AE83C6"/><circle cx="441.30" cy="456.75" r="2.4" fill="#AE83C6"/><circle cx="499.45" cy="452.35" r="2.4" fill="#AE83C6"/><circle cx="486.95" cy="456.65" r="2.4" fill="#AE83C6"/><circle cx="493.80" cy="455.35" r="2.4" fill="#AE83C6"/><circle cx="493.45" cy="457.85" r="2.4" fill="#AE83C6"/><circle cx="478.80" cy="460.35" r="2.4" fill="#AE83C6"/><circle cx="499.05" cy="459.85" r="2.4" fill="#AE83C6"/><circle cx="449.05" cy="465.85" r="2.4" fill="#AE83C6"/><circle cx="455.55" cy="465.65" r="2.4" fill="#AE83C6"/><circle cx="414.55" cy="453.50" r="2.4" fill="#AE83C6"/><circle cx="421.30" cy="459.00" r="2.4" fill="#AE83C6"/><circle cx="389.55" cy="461.25" r="2.4" fill="#AE83C6"/><circle cx="478.80" cy="332.50" r="2.4" fill="#1CBAC7"/><circle cx="514.05" cy="356.35" r="2.4" fill="#1CBAC7"/><circle cx="411.55" cy="380.25" r="2.4" fill="#1CBAC7"/><circle cx="465.55" cy="387.75" r="2.4" fill="#1CBAC7"/><circle cx="360.80" cy="450.75" r="2.4" fill="#1CBAC7"/><circle cx="375.30" cy="452.00" r="2.4" fill="#1CBAC7"/><circle cx="377.30" cy="450.50" r="2.4" fill="#1CBAC7"/><circle cx="402.30" cy="447.25" r="2.4" fill="#1CBAC7"/><circle cx="410.80" cy="442.75" r="2.4" fill="#1CBAC7"/><circle cx="395.80" cy="458.00" r="2.4" fill="#1CBAC7"/><circle cx="458.80" cy="414.50" r="2.4" fill="#1CBAC7"/><circle cx="475.55" cy="408.00" r="2.4" fill="#1CBAC7"/><circle cx="483.15" cy="405.75" r="2.4" fill="#1CBAC7"/><circle cx="478.05" cy="426.75" r="2.4" fill="#1CBAC7"/><circle cx="489.55" cy="460.65" r="2.4" fill="#1CBAC7"/><circle cx="409.05" cy="400.75" r="2.4" fill="#F3716B"/><circle cx="429.30" cy="425.25" r="2.4" fill="#F3716B"/><circle cx="441.95" cy="427.25" r="2.4" fill="#F3716B"/><circle cx="443.05" cy="429.75" r="2.4" fill="#F3716B"/><circle cx="489.45" cy="427.75" r="2.4" fill="#F3716B"/><circle cx="505.15" cy="430.65" r="2.4" fill="#F3716B"/><circle cx="423.80" cy="445.25" r="2.4" fill="#F3716B"/><circle cx="416.30" cy="449.50" r="2.4" fill="#F3716B"/><circle cx="450.55" cy="441.00" r="2.4" fill="#F3716B"/><circle cx="469.80" cy="439.50" r="2.4" fill="#F3716B"/><circle cx="446.55" cy="446.25" r="2.4" fill="#F3716B"/><circle cx="454.55" cy="446.65" r="2.4" fill="#F3716B"/><circle cx="472.65" cy="446.35" r="2.4" fill="#F3716B"/><circle cx="474.15" cy="455.15" r="2.4" fill="#F3716B"/><circle cx="428.80" cy="461.25" r="2.4" fill="#F3716B"/><circle cx="436.05" cy="464.65" r="2.4" fill="#F3716B"/><circle cx="421.30" cy="466.00" r="2.4" fill="#F3716B"/><circle cx="419.30" cy="466.75" r="2.4" fill="#F3716B"/><circle cx="402.55" cy="467.25" r="2.4" fill="#F3716B"/>
<text class="lab" transform="translate(328.3,264.3) scale(1.06,1)">D</text>
<text class="at2" x="460.8" y="508.6" text-anchor="middle">AD Shannon diversity</text>
<text class="at2" transform="translate(318.6,372.9) rotate(-90)" text-anchor="middle">V3V4 Chao1 richness</text>
<text class="an" x="361.2" y="277" fill="#F3716B" stroke="#F3716B"><tspan font-style="italic">R</tspan> = 0.23, <tspan font-style="italic">p</tspan> = 0.71</text>
<text class="an" x="361.2" y="286.6" fill="#72AC3C" stroke="#72AC3C"><tspan font-style="italic">R</tspan> = 0.77, <tspan font-style="italic">p</tspan> &lt; 0.001</text>
<text class="an" x="361.2" y="296" fill="#1CBAC7" stroke="#1CBAC7"><tspan font-style="italic">R</tspan> = 0.6, <tspan font-style="italic">p</tspan> = 0.049</text>
<text class="an" x="361.2" y="305.5" fill="#AE83C6" stroke="#AE83C6"><tspan font-style="italic">R</tspan> = 0.56, <tspan font-style="italic">p</tspan> &lt; 0.001</text>
<text class="lgt" x="600.3" y="262.2">Sample site</text>
<circle cx="616.7" cy="280.5" r="3.65" fill="#F3716B"/>
<text class="lg" x="631.8" y="286.1">N1</text>
<circle cx="616.7" cy="308.25" r="3.65" fill="#72AC3C"/>
<text class="lg" x="631.8" y="313.85">S1</text>
<circle cx="616.7" cy="336.2" r="3.65" fill="#1CBAC7"/>
<text class="lg" x="631.8" y="341.8">Z1</text>
<circle cx="616.7" cy="363.8" r="3.65" fill="#AE83C6"/>
<text class="lg" x="631.8" y="369.40000000000003">Z2</text>
</svg></body></html>
